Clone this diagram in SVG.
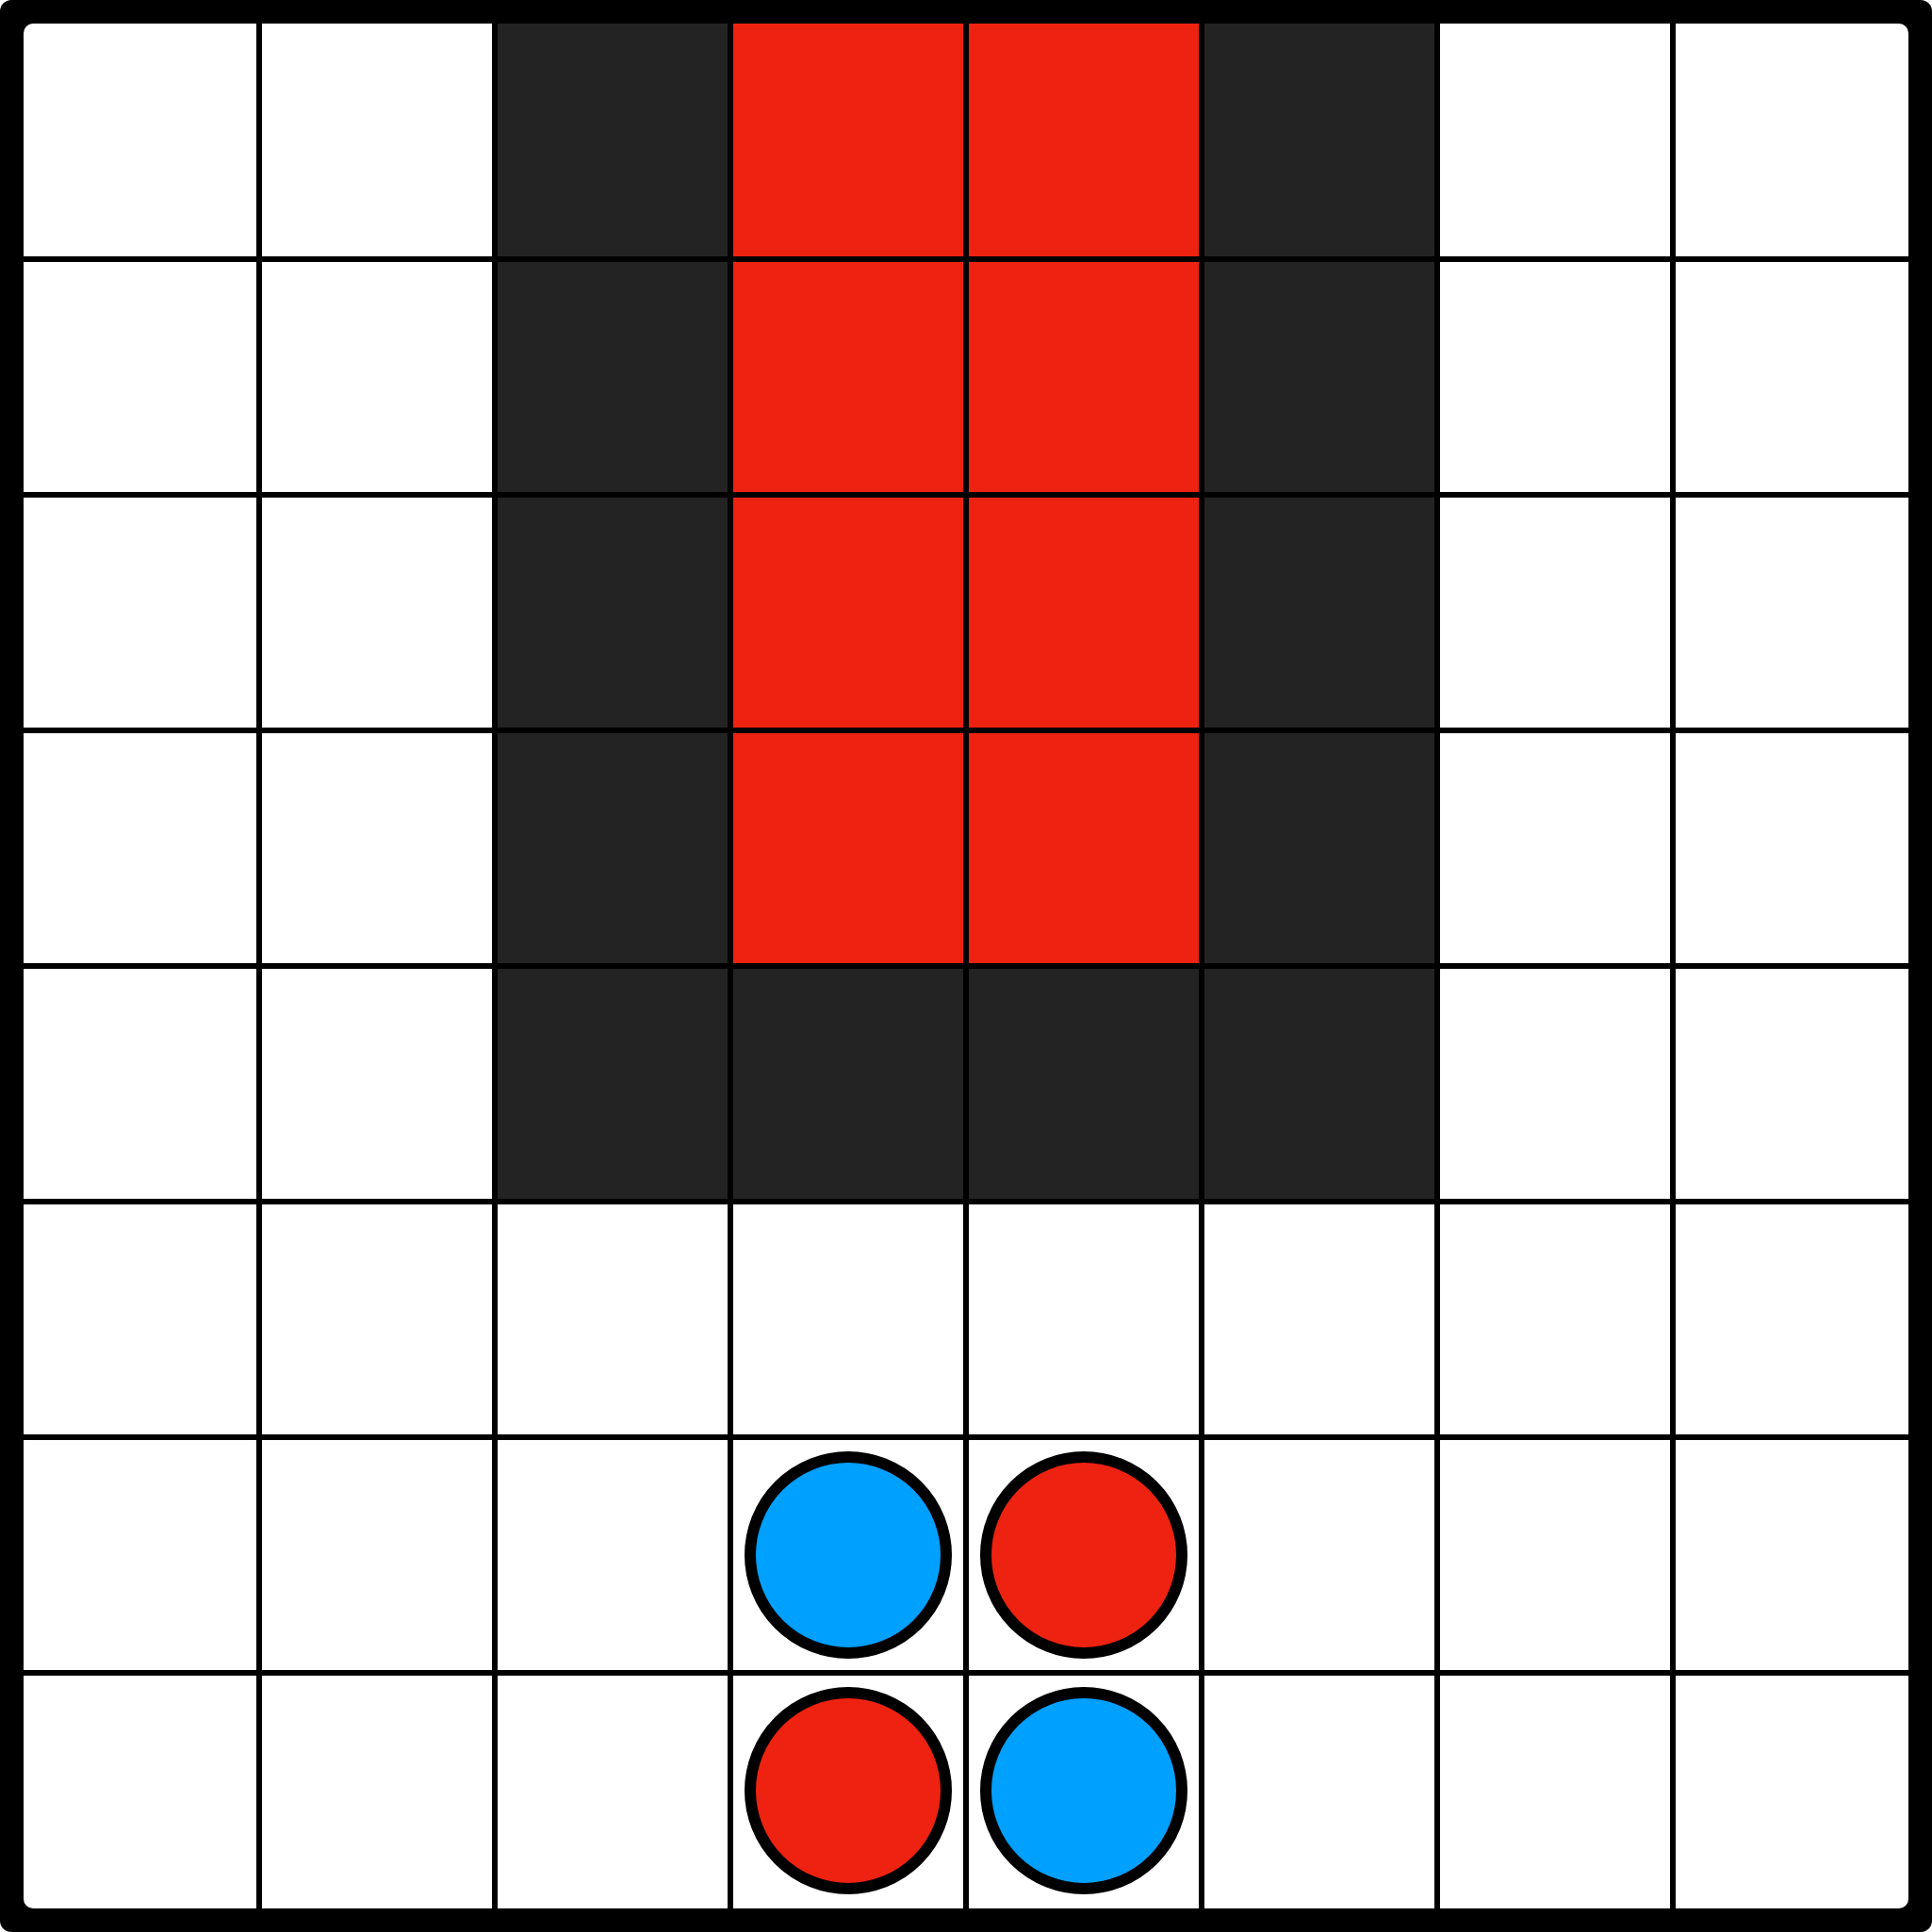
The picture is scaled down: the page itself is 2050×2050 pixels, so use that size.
<svg xmlns="http://www.w3.org/2000/svg" width="2050" height="2050" viewBox="0 0 2050 2050">
<style>
.dark{fill:#232323}
.red{fill:#EE2211}
.grid line{stroke:#000;stroke-width:6}
.piece{stroke:#000;stroke-width:12}
.pr{fill:#EE2211}
.pb{fill:#00A0FF}
</style>
<g id="board">
<rect x="0" y="0" width="2050" height="2050" rx="12" fill="#000"/>
<rect x="25" y="25" width="2000" height="2000" rx="10" fill="#fff"/>
</g>
<g id="cells">
<rect class="dark" x="525" y="25" width="250" height="1250"/>
<rect class="dark" x="1275" y="25" width="250" height="1250"/>
<rect class="dark" x="775" y="1025" width="500" height="250"/>
<rect class="red" x="775" y="25" width="500" height="1000"/>
</g>
<g id="grid" class="grid">
<line x1="275" y1="25" x2="275" y2="2025"/>
<line x1="525" y1="25" x2="525" y2="2025"/>
<line x1="775" y1="25" x2="775" y2="2025"/>
<line x1="1025" y1="25" x2="1025" y2="2025"/>
<line x1="1275" y1="25" x2="1275" y2="2025"/>
<line x1="1525" y1="25" x2="1525" y2="2025"/>
<line x1="1775" y1="25" x2="1775" y2="2025"/>
<line x1="25" y1="275" x2="2025" y2="275"/>
<line x1="25" y1="525" x2="2025" y2="525"/>
<line x1="25" y1="775" x2="2025" y2="775"/>
<line x1="25" y1="1025" x2="2025" y2="1025"/>
<line x1="25" y1="1275" x2="2025" y2="1275"/>
<line x1="25" y1="1525" x2="2025" y2="1525"/>
<line x1="25" y1="1775" x2="2025" y2="1775"/>
</g>
<g id="piece-1"><circle class="piece pb" cx="900" cy="1650" r="104"/></g>
<g id="piece-2"><circle class="piece pr" cx="1150" cy="1650" r="104"/></g>
<g id="piece-3"><circle class="piece pr" cx="900" cy="1900" r="104"/></g>
<g id="piece-4"><circle class="piece pb" cx="1150" cy="1900" r="104"/></g>
</svg>
